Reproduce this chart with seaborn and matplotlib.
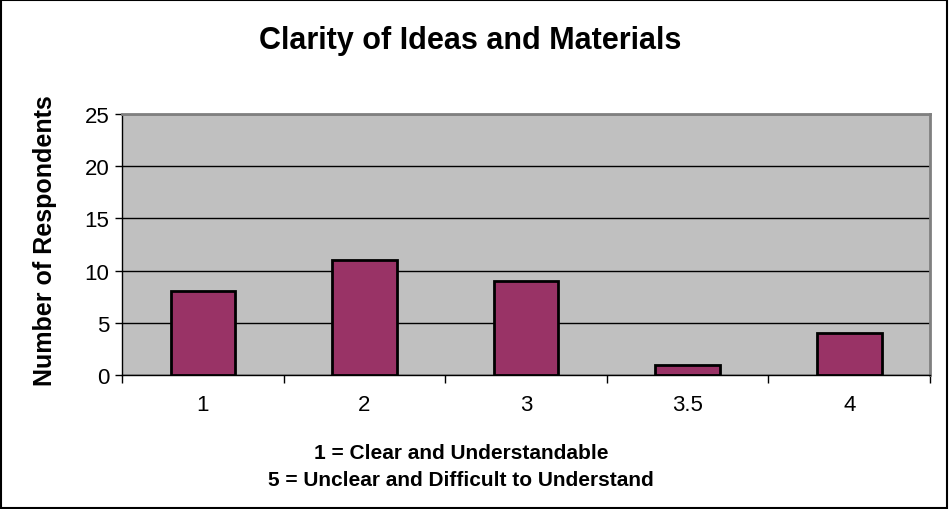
import pandas as pd
import matplotlib.pyplot as plt
import seaborn as sns
from matplotlib.patches import Rectangle

categories = ['1', '2', '3', '3.5', '4']
respondents = [8, 11, 9, 1, 4]
df = pd.DataFrame({'rating': categories, 'count': respondents})

sns.set_style('white')
plt.rcParams['font.family'] = ['Liberation Sans', 'DejaVu Sans']
plt.rcParams['text.color'] = 'black'
plt.rcParams['axes.labelcolor'] = 'black'
plt.rcParams['xtick.color'] = 'black'
plt.rcParams['ytick.color'] = 'black'

fig = plt.figure(figsize=(9.49, 5.10), dpi=100)
ax = fig.add_axes([0.1286, 0.2627, 0.8514, 0.5118])
ax.set_facecolor('#C0C0C0')

sns.barplot(data=df, x='rating', y='count', order=categories, color='#993366',
            saturation=1, width=0.4, edgecolor='black', linewidth=2, ax=ax, zorder=3)

ax.set_ylim(0, 25)
ax.set_xlim(-0.5, len(categories) - 0.5)
ax.set_yticks(range(0, 26, 5))
ax.yaxis.grid(True, color='black', linewidth=1)
ax.set_axisbelow(True)
ax.tick_params(axis='y', labelsize=16, length=5, width=1, color='black', left=True, pad=4)

# category boundary ticks like Excel
ax.set_xticks([i - 0.5 for i in range(len(categories) + 1)])
ax.set_xticklabels([])
ax.set_xticks(range(len(categories)), minor=True)
ax.set_xticklabels(categories, minor=True, fontsize=16)
ax.tick_params(axis='x', which='major', length=6, width=1, color='black', bottom=True)
ax.tick_params(axis='x', which='minor', length=0, pad=14)

for side in ['left', 'bottom']:
    ax.spines[side].set_color('black')
    ax.spines[side].set_linewidth(1)
for side in ['top', 'right']:
    ax.spines[side].set_color('#808080')
    ax.spines[side].set_linewidth(2)

ax.set_xlabel('')
ax.set_ylabel('Number of Respondents', fontsize=18, fontweight='bold', labelpad=10)
ax.yaxis.set_label_coords(-0.08, 0.52)

fig.text(0.495, 0.92, 'Clarity of Ideas and Materials', ha='center', va='center',
         fontsize=22, fontweight='bold')
fig.text(0.486, 0.11, '1 = Clear and Understandable', ha='center', va='center',
         fontsize=15, fontweight='bold')
fig.text(0.486, 0.057, '5 = Unclear and Difficult to Understand', ha='center', va='center',
         fontsize=15, fontweight='bold')

fig.patches.append(Rectangle((0.001, 0.001), 0.997, 0.997, transform=fig.transFigure,
                             fill=False, edgecolor='black', linewidth=1.5))

fig.savefig('out.png', dpi=100)
